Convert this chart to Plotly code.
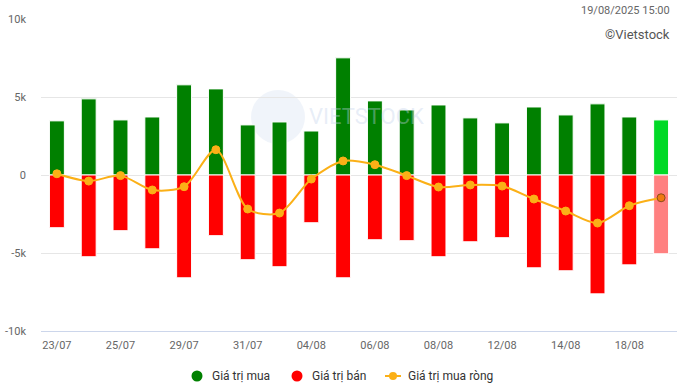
import plotly.graph_objects as go

dates = ["23/07", "24/07", "25/07", "28/07", "29/07", "30/07", "31/07", "01/08", "04/08", "05/08",
         "06/08", "07/08", "08/08", "11/08", "12/08", "13/08", "14/08", "15/08", "18/08", "19/08"]
buy = [3.47, 4.88, 3.53, 3.72, 5.78, 5.52, 3.21, 3.40, 2.82, 7.51,
       4.75, 4.17, 4.49, 3.66, 3.34, 4.36, 3.85, 4.56, 3.72, 3.53]
sell = [3.38, 5.24, 3.57, 4.73, 6.59, 3.89, 5.43, 5.88, 3.06, 6.59,
        4.15, 4.21, 5.24, 4.28, 4.02, 5.95, 6.14, 7.62, 5.76, 5.05]
net = [0.08, -0.39, -0.04, -0.96, -0.75, 1.62, -2.18, -2.44, -0.26, 0.90,
       0.66, -0.04, -0.77, -0.64, -0.71, -1.54, -2.31, -3.08, -1.97, -1.46]
tick_dates = ["23/07", "25/07", "29/07", "31/07", "04/08", "06/08", "08/08", "12/08", "14/08", "18/08"]
y_ticks = [-10, -5, 0, 5, 10]
y_labels = ["-10k", "-5k", "0", "5k", "10k"]
series_names = ["Giá trị mua", "Giá trị bán", "Giá trị mua ròng"]

n = len(dates)
GREEN, RED, ORANGE = "#008000", "#ff0000", "#fbb017"
buy_colors = [GREEN] * (n - 1) + ["#00d926"]
sell_colors = [RED] * (n - 1) + ["#ff8080"]
net_colors = [ORANGE] * (n - 1) + ["#f07a10"]
net_line_colors = [ORANGE] * (n - 1) + ["#8a4a1a"]

FONT = "Roboto, Arial, sans-serif"
W, H = 677, 387
PLOT_LEFT, PLOT_TOP, PLOT_BOTTOM = 41, 19, 331


def py(px):
    return (PLOT_BOTTOM - px) / (PLOT_BOTTOM - PLOT_TOP)


def px_x(px):
    return (px - PLOT_LEFT) / (W - PLOT_LEFT)


fig = go.Figure()
fig.add_trace(go.Bar(x=dates, y=buy, marker=dict(color=buy_colors, line=dict(color="white", width=1)),
                     width=0.47, name=series_names[0]))
fig.add_trace(go.Bar(x=dates, y=[-v for v in sell], marker=dict(color=sell_colors, line=dict(color="white", width=1)),
                     width=0.47, name=series_names[1]))
fig.add_trace(go.Scatter(x=dates, y=net, mode="lines+markers", name=series_names[2],
                         line=dict(color=ORANGE, width=2, shape="spline", smoothing=0.8),
                         marker=dict(size=8, color=net_colors, line=dict(color=net_line_colors, width=1))))

LEG_Y = py(376)
shapes = [
    # watermark circle
    dict(type="circle", xref="paper", yref="paper", xsizemode="pixel", ysizemode="pixel",
         xanchor=px_x(278), yanchor=py(117), x0=-27, x1=27, y0=-27, y1=27, layer="below",
         fillcolor="rgba(205,218,238,0.3)", line=dict(width=0)),
    # legend symbols
    dict(type="circle", xref="paper", yref="paper", xsizemode="pixel", ysizemode="pixel",
         xanchor=px_x(197), yanchor=LEG_Y, x0=-5.5, x1=5.5, y0=-5.5, y1=5.5,
         fillcolor=GREEN, line=dict(width=0)),
    dict(type="circle", xref="paper", yref="paper", xsizemode="pixel", ysizemode="pixel",
         xanchor=px_x(297), yanchor=LEG_Y, x0=-5.5, x1=5.5, y0=-5.5, y1=5.5,
         fillcolor=RED, line=dict(width=0)),
    dict(type="line", xref="paper", yref="paper", xsizemode="pixel", ysizemode="pixel",
         xanchor=px_x(393), yanchor=LEG_Y, x0=-8, x1=8, y0=0, y1=0,
         line=dict(color=ORANGE, width=2)),
    dict(type="circle", xref="paper", yref="paper", xsizemode="pixel", ysizemode="pixel",
         xanchor=px_x(393), yanchor=LEG_Y, x0=-4, x1=4, y0=-4, y1=4,
         fillcolor=ORANGE, line=dict(width=0)),
]

annotations = [
    dict(text="19/08/2025 15:00", xref="paper", yref="paper", x=1, y=py(10),
         xanchor="right", yanchor="middle", showarrow=False, xshift=-5,
         font=dict(size=11, color="#666666")),
    dict(text="©Vietstock", xref="paper", yref="paper", x=1, y=py(34),
         xanchor="right", yanchor="middle", showarrow=False, xshift=-5,
         font=dict(size=13, color="#555555")),
    dict(text="VIETSTOCK", xref="paper", yref="paper", x=px_x(366), y=py(116),
         xanchor="center", yanchor="middle", showarrow=False,
         font=dict(size=22, color="rgba(195,210,235,0.4)", family=FONT)),
]
for name, x0 in zip(series_names, [210, 310, 406]):
    annotations.append(dict(text=name, xref="paper", yref="paper", x=px_x(x0), y=LEG_Y,
                            xanchor="left", yanchor="middle", showarrow=False,
                            font=dict(size=12, color="#333333")))

fig.update_layout(
    width=W, height=H,
    margin=dict(l=PLOT_LEFT, r=0, t=PLOT_TOP, b=H - PLOT_BOTTOM, autoexpand=False),
    paper_bgcolor="white", plot_bgcolor="white",
    barmode="relative",
    font=dict(family=FONT, size=11, color="#666666"),
    showlegend=False,
    xaxis=dict(type="category", categoryorder="array", categoryarray=dates,
               tickmode="array", tickvals=tick_dates, ticktext=tick_dates,
               showgrid=False, showline=True, linecolor="#ccd6eb", linewidth=1,
               ticks="", tickfont=dict(size=11, color="#666666"), range=[-0.5, n - 0.5],
               ticklabelstandoff=4),
    yaxis=dict(range=[-10, 10], tickmode="array", tickvals=y_ticks, ticktext=y_labels,
               showgrid=True, gridcolor="#e6e6e6", gridwidth=1, zeroline=False,
               tickfont=dict(size=11, color="#666666"), ticks="", ticklabelstandoff=14),
    annotations=annotations,
    shapes=shapes,
)

fig.write_html("out.html", config={"displayModeBar": False},
               post_script="document.body.style.margin='0';")
